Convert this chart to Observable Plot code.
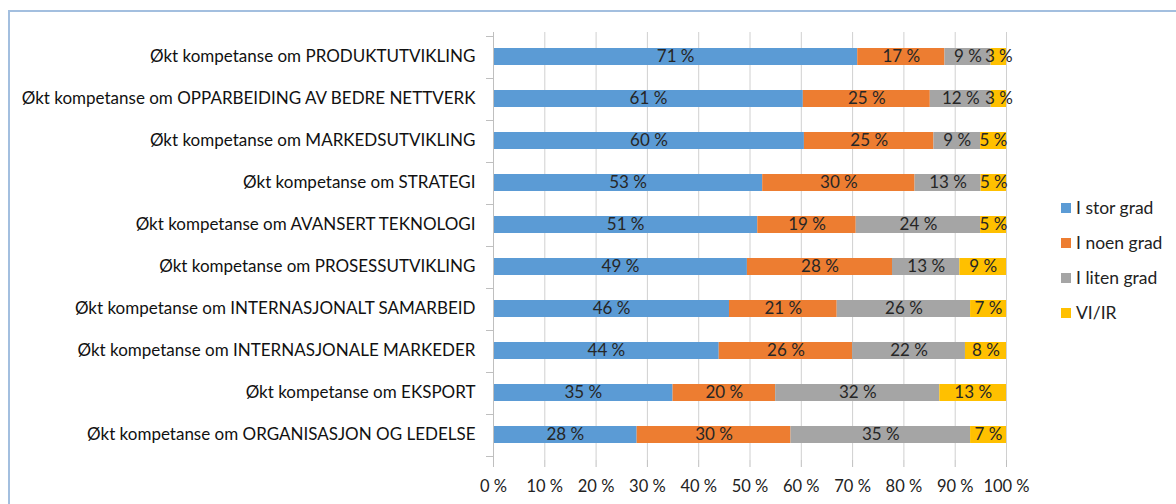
<!DOCTYPE html>
<html>
<head>
<meta charset="utf-8">
<script src="https://cdn.jsdelivr.net/npm/d3@7"></script>
<script src="https://cdn.jsdelivr.net/npm/@observablehq/plot@0.6"></script>
<style>
  html, body { margin: 0; padding: 0; background: #fff; overflow: hidden; }
  #wrap { position: relative; width: 1176px; height: 504px; }
  #frame { position: absolute; left: 8px; top: 10px; width: 1300px; height: 600px; border: 2px solid #a3bfdf; box-sizing: border-box; }
  #chart { position: absolute; left: 0; top: 0; }
  #legend { position: absolute; left: 1061px; top: 197px; font-family: Lato, "Open Sans", sans-serif; font-size: 17.5px; color: #222; }
  #legend .item { height: 35px; display: flex; align-items: flex-start; }
  #legend .sw { width: 10px; height: 10px; margin-top: 6px; margin-right: 5px; }
</style>
</head>
<body>
<div id="wrap">
  <div id="frame"></div>
  <div id="chart"></div>
  <div id="legend"></div>
</div>
<script>
const categories = [
  "Økt kompetanse om PRODUKTUTVIKLING",
  "Økt kompetanse om OPPARBEIDING AV BEDRE NETTVERK",
  "Økt kompetanse om MARKEDSUTVIKLING",
  "Økt kompetanse om STRATEGI",
  "Økt kompetanse om AVANSERT TEKNOLOGI",
  "Økt kompetanse om PROSESSUTVIKLING",
  "Økt kompetanse om INTERNASJONALT SAMARBEID",
  "Økt kompetanse om INTERNASJONALE MARKEDER",
  "Økt kompetanse om EKSPORT",
  "Økt kompetanse om ORGANISASJON OG LEDELSE"
];
const seriesNames = ["I stor grad", "I noen grad", "I liten grad", "VI/IR"];
const seriesColors = ["#5b9bd5", "#ed7d31", "#a5a5a5", "#ffc000"];
const iStorGrad  = [71, 61, 60, 53, 51, 49, 46, 44, 35, 28];
const iNoenGrad  = [17, 25, 25, 30, 19, 28, 21, 26, 20, 30];
const iLitenGrad = [9, 12, 9, 13, 24, 13, 26, 22, 32, 35];
const viIr       = [3, 3, 5, 5, 5, 9, 7, 8, 13, 7];
const xTicks = [0, 0.1, 0.2, 0.3, 0.4, 0.5, 0.6, 0.7, 0.8, 0.9, 1];

const seriesValues = [iStorGrad, iNoenGrad, iLitenGrad, viIr];
const data = [];
categories.forEach((c, i) => {
  seriesNames.forEach((s, j) => {
    data.push({cat: c, series: s, value: seriesValues[j][i]});
  });
});

const font = 'Lato, "Open Sans", sans-serif';
const stackOpts = {x: "value", y: "cat", z: "series", offset: "normalize", order: null};

// category-boundary ticks on the y axis (Excel style), computed from Plot's band scale
function boundaryTicks(index, scales, values, dimensions) {
  const y = scales.y;
  const x = scales.x;
  const desc = scales.scales.y;
  const step = desc.step, bw = desc.bandwidth;
  const x0 = x(0);
  const g = d3.create("svg:g").attr("stroke", "#bfbfbf").attr("fill", "none");
  const ys = categories.map(c => y(c) - (step - bw) / 2);
  ys.push(y(categories[categories.length - 1]) + bw + (step - bw) / 2);
  ys.forEach(v => {
    g.append("line").attr("x1", x0 - 7).attr("x2", x0).attr("y1", Math.round(v) + 0.5).attr("y2", Math.round(v) + 0.5);
  });
  return g.node();
}

const chart = Plot.plot({
  width: 1176,
  height: 504,
  marginLeft: 493,
  marginRight: 170,
  marginTop: 32,
  marginBottom: 44,
  style: {fontFamily: font, fontSize: "16px", color: "#222", background: "transparent"},
  x: {domain: [0, 1], ticks: xTicks, tickFormat: d => Math.round(d * 100) + " %", label: null, tickSize: 0},
  y: {domain: categories, paddingInner: 0.59, paddingOuter: 0.295, label: null, tickSize: 0, tickPadding: 18},
  color: {domain: seriesNames, range: seriesColors},
  marks: [
    Plot.ruleX(xTicks, {stroke: "#d0d0d0", strokeWidth: 1}),
    Plot.barX(data, Plot.stackX({...stackOpts, fill: "series"})),
    Plot.text(data, Plot.stackX({...stackOpts, text: d => d.value + " %", fill: "#262626", fontSize: 17})),
    Plot.ruleX([0], {stroke: "#bfbfbf"}),
    Plot.ruleY([0], {frameAnchor: "bottom", stroke: "#bfbfbf"}),
    boundaryTicks,
    Plot.axisX({ticks: xTicks, tickFormat: d => Math.round(d * 100) + " %", tickSize: 7, tickPadding: 13, stroke: "#bfbfbf", fill: "#222", fontSize: 16.5, label: null}),
    Plot.axisY({tickSize: 0, tickPadding: 18, fill: "#111", fontSize: 17, label: null})
  ]
});
document.getElementById("chart").appendChild(chart);

const legend = document.getElementById("legend");
seriesNames.forEach((s, j) => {
  const item = document.createElement("div");
  item.className = "item";
  const sw = document.createElement("div");
  sw.className = "sw";
  sw.style.background = seriesColors[j];
  const t = document.createElement("span");
  t.textContent = s;
  item.appendChild(sw);
  item.appendChild(t);
  legend.appendChild(item);
});
</script>
</body>
</html>
